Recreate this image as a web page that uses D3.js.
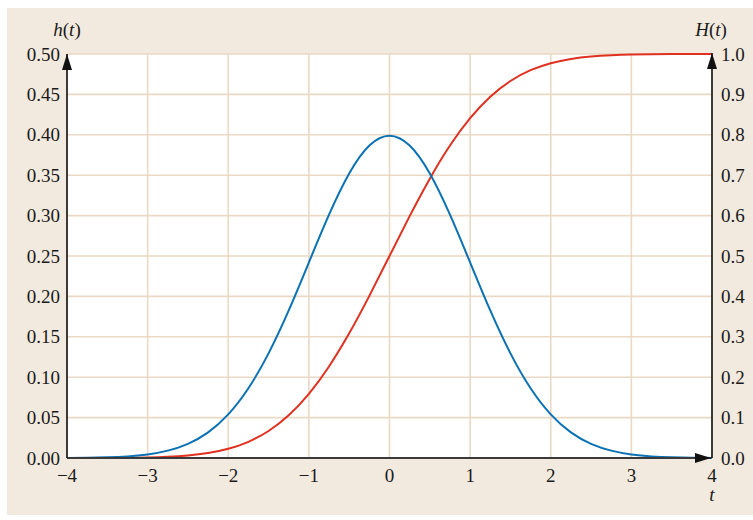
<!DOCTYPE html>
<html>
<head>
<meta charset="utf-8">
<script src="https://cdn.jsdelivr.net/npm/d3@7"></script>
<style>
  html, body { margin: 0; padding: 0; background: #ffffff; }
  svg { display: block; }
  text { font-family: "Liberation Serif", "Times New Roman", serif; fill: #1a1a1a; }
</style>
</head>
<body>
<svg id="chart" width="753" height="520"></svg>
<script>
// Sample points of the density h(t) and the distribution H(t)
const tValues = [-4, -3.75, -3.5, -3.25, -3, -2.75, -2.5, -2.25, -2, -1.75, -1.5, -1.25, -1, -0.75, -0.5, -0.25,
                 0, 0.25, 0.5, 0.75, 1, 1.25, 1.5, 1.75, 2, 2.25, 2.5, 2.75, 3, 3.25, 3.5, 3.75, 4];
const hValues = [0.0001, 0.0004, 0.0009, 0.0020, 0.0044, 0.0091, 0.0175, 0.0317, 0.0540, 0.0863, 0.1295, 0.1826,
                 0.2420, 0.3011, 0.3521, 0.3867, 0.3989, 0.3867, 0.3521, 0.3011, 0.2420, 0.1826, 0.1295, 0.0863,
                 0.0540, 0.0317, 0.0175, 0.0091, 0.0044, 0.0020, 0.0009, 0.0004, 0.0001];
const HValues = [0.0000, 0.0001, 0.0002, 0.0006, 0.0013, 0.0030, 0.0062, 0.0122, 0.0228, 0.0401, 0.0668, 0.1056,
                 0.1587, 0.2266, 0.3085, 0.4013, 0.5000, 0.5987, 0.6915, 0.7734, 0.8413, 0.8944, 0.9332, 0.9599,
                 0.9772, 0.9878, 0.9938, 0.9970, 0.9987, 0.9994, 0.9998, 0.9999, 1.0000];

const xTicks = [-4, -3, -2, -1, 0, 1, 2, 3, 4];
const leftTicks = [0, 0.05, 0.10, 0.15, 0.20, 0.25, 0.30, 0.35, 0.40, 0.45, 0.50];
const rightTicks = [0, 0.1, 0.2, 0.3, 0.4, 0.5, 0.6, 0.7, 0.8, 0.9, 1.0];

const svg = d3.select("#chart");
const plot = { left: 67, right: 712, top: 54, bottom: 458 };

const x = d3.scaleLinear().domain([-4, 4]).range([plot.left, plot.right]);
const yL = d3.scaleLinear().domain([0, 0.5]).range([plot.bottom, plot.top]);
const yR = d3.scaleLinear().domain([0, 1]).range([plot.bottom, plot.top]);

// Panel background and plotting area
svg.append("rect").attr("x", 7).attr("y", 8).attr("width", 746).attr("height", 507).attr("fill", "#f3eadf");
svg.append("rect").attr("x", plot.left).attr("y", plot.top)
  .attr("width", plot.right - plot.left).attr("height", plot.bottom - plot.top).attr("fill", "#ffffff");

// Grid
const gridColor = "#ead9c4";
svg.append("g").selectAll("line").data(xTicks).join("line")
  .attr("x1", d => x(d)).attr("x2", d => x(d))
  .attr("y1", plot.top).attr("y2", plot.bottom)
  .attr("stroke", gridColor).attr("stroke-width", 1.6);
svg.append("g").selectAll("line").data(leftTicks).join("line")
  .attr("x1", plot.left).attr("x2", plot.right)
  .attr("y1", d => yL(d)).attr("y2", d => yL(d))
  .attr("stroke", gridColor).attr("stroke-width", 1.6);

// Curves (smooth natural splines through the samples)
const pts = tValues.map((t, i) => ({ t, h: hValues[i], H: HValues[i] }));
const hLine = d3.line().x(d => x(d.t)).y(d => yL(d.h)).curve(d3.curveNatural);
const HLine = d3.line().x(d => x(d.t)).y(d => yR(d.H)).curve(d3.curveNatural);

svg.append("path").datum(pts).attr("d", HLine)
  .attr("fill", "none").attr("stroke", "#e03020").attr("stroke-width", 2);
svg.append("path").datum(pts).attr("d", hLine)
  .attr("fill", "none").attr("stroke", "#0a72b4").attr("stroke-width", 2);

// Axes with arrowheads
const defs = svg.append("defs");
defs.append("marker").attr("id", "arrow").attr("viewBox", "0 0 16 10")
  .attr("refX", 16).attr("refY", 5).attr("markerWidth", 16).attr("markerHeight", 10)
  .attr("markerUnits", "userSpaceOnUse").attr("orient", "auto")
  .append("path").attr("d", "M0,0 L16,5 L0,10 Z").attr("fill", "#111");

svg.append("line").attr("x1", plot.left).attr("x2", plot.right - 1)
  .attr("y1", plot.bottom).attr("y2", plot.bottom)
  .attr("stroke", "#3a3a3a").attr("stroke-width", 2).attr("marker-end", "url(#arrow)");
svg.append("line").attr("x1", plot.left).attr("x2", plot.left)
  .attr("y1", plot.bottom).attr("y2", plot.top)
  .attr("stroke", "#111").attr("stroke-width", 1.6).attr("marker-end", "url(#arrow)");
svg.append("line").attr("x1", plot.right).attr("x2", plot.right)
  .attr("y1", plot.bottom).attr("y2", plot.top - 1)
  .attr("stroke", "#111").attr("stroke-width", 1.6).attr("marker-end", "url(#arrow)");

// Tick labels
const fs = 19;
svg.append("g").selectAll("text").data(xTicks).join("text")
  .attr("x", d => x(d)).attr("y", 482).attr("text-anchor", "middle").attr("font-size", fs)
  .text(d => d < 0 ? "\u2212" + Math.abs(d) : String(d));
svg.append("g").selectAll("text").data(leftTicks).join("text")
  .attr("x", 60).attr("y", d => yL(d) + 6.5).attr("text-anchor", "end").attr("font-size", fs)
  .text(d => d.toFixed(2));
svg.append("g").selectAll("text").data(rightTicks).join("text")
  .attr("x", 721).attr("y", d => yR(d) + 6.5).attr("text-anchor", "start").attr("font-size", fs)
  .text(d => d.toFixed(1));

// Axis titles
function fnLabel(xPos, yPos, name) {
  const t = svg.append("text").attr("x", xPos).attr("y", yPos).attr("text-anchor", "middle").attr("font-size", fs);
  t.append("tspan").attr("font-style", "italic").text(name);
  t.append("tspan").text("(");
  t.append("tspan").attr("font-style", "italic").text("t");
  t.append("tspan").text(")");
}
fnLabel(67, 36, "h");
fnLabel(711, 36, "H");
svg.append("text").attr("x", 712).attr("y", 501).attr("text-anchor", "middle")
  .attr("font-size", fs).attr("font-style", "italic").text("t");
</script>
</body>
</html>
